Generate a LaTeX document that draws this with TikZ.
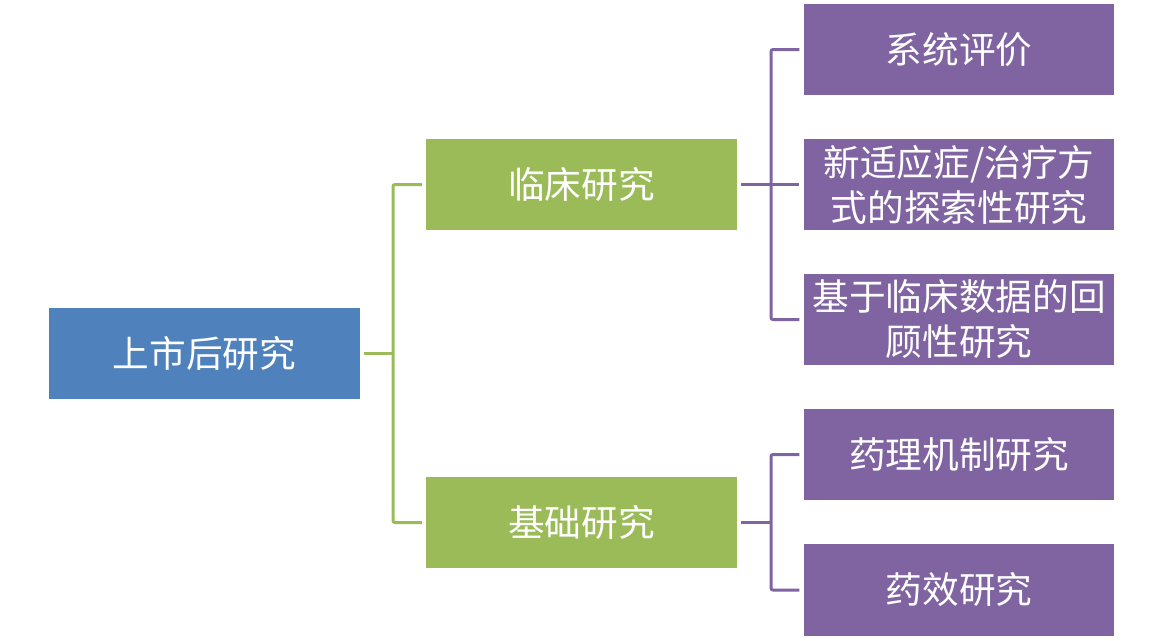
\documentclass[tikz,border=0pt]{standalone}
\usepackage{fontspec}
\newfontfamily\cjk{Noto Sans CJK SC}
\definecolor{cblue}{HTML}{4F81BD}
\definecolor{cgreen}{HTML}{9BBB59}
\definecolor{cpurple}{HTML}{8064A2}
\begin{document}
\begin{tikzpicture}[x=0.75pt,y=-0.75pt,
  boxbase/.style={rectangle,inner sep=0pt,minimum width=233pt,minimum height=68.5pt,
    text width=230pt,align=center,text=white,
    font=\cjk\fontsize{27.5}{33.75}\selectfont},
  rootbox/.style={boxbase,fill=cblue},
  midbox/.style={boxbase,fill=cgreen},
  leafbox/.style={boxbase,fill=cpurple},
  gline/.style={draw=cgreen,line width=2.25pt,rounded corners=1.5pt},
  pline/.style={draw=cpurple,line width=2.25pt,rounded corners=1.5pt},
  gapboth/.style={shorten <=3pt,shorten >=3pt},
  gapstart/.style={shorten <=3pt}]
\useasboundingbox (0,0) rectangle (1164,640);
\node[rootbox] (root) at (204.5,353.5) {上市后研究};
\node[midbox] (clin) at (581.5,184.5) {临床研究};
\node[midbox] (basic) at (581.5,522.5) {基础研究};
\node[leafbox] (p1) at (959,49.5) {系统评价};
\node[leafbox] (p2) at (959,184.5) {新适应症/治疗方\\式的探索性研究};
\node[leafbox] (p3) at (959,319.5) {基于临床数据的回\\顾性研究};
\node[leafbox] (p4) at (959,454.5) {药理机制研究};
\node[leafbox] (p5) at (959,590) {药效研究};
\coordinate (gj) at (393,353.5);
\coordinate (pj1) at (771,184.5);
\coordinate (pj2) at (771,522.5);
\draw[gline,gapboth] (clin.west) -| (gj) |- (basic.west);
\draw[gline,gapstart] (root.east) -- (gj);
\draw[pline,gapboth] (p1.west) -| (pj1) |- (p3.west);
\draw[pline,gapboth] (clin.east) -- (p2.west);
\draw[pline,gapboth] (p4.west) -| (pj2) |- (p5.west);
\draw[pline,gapstart] (basic.east) -- (pj2);
\end{tikzpicture}
\end{document}
